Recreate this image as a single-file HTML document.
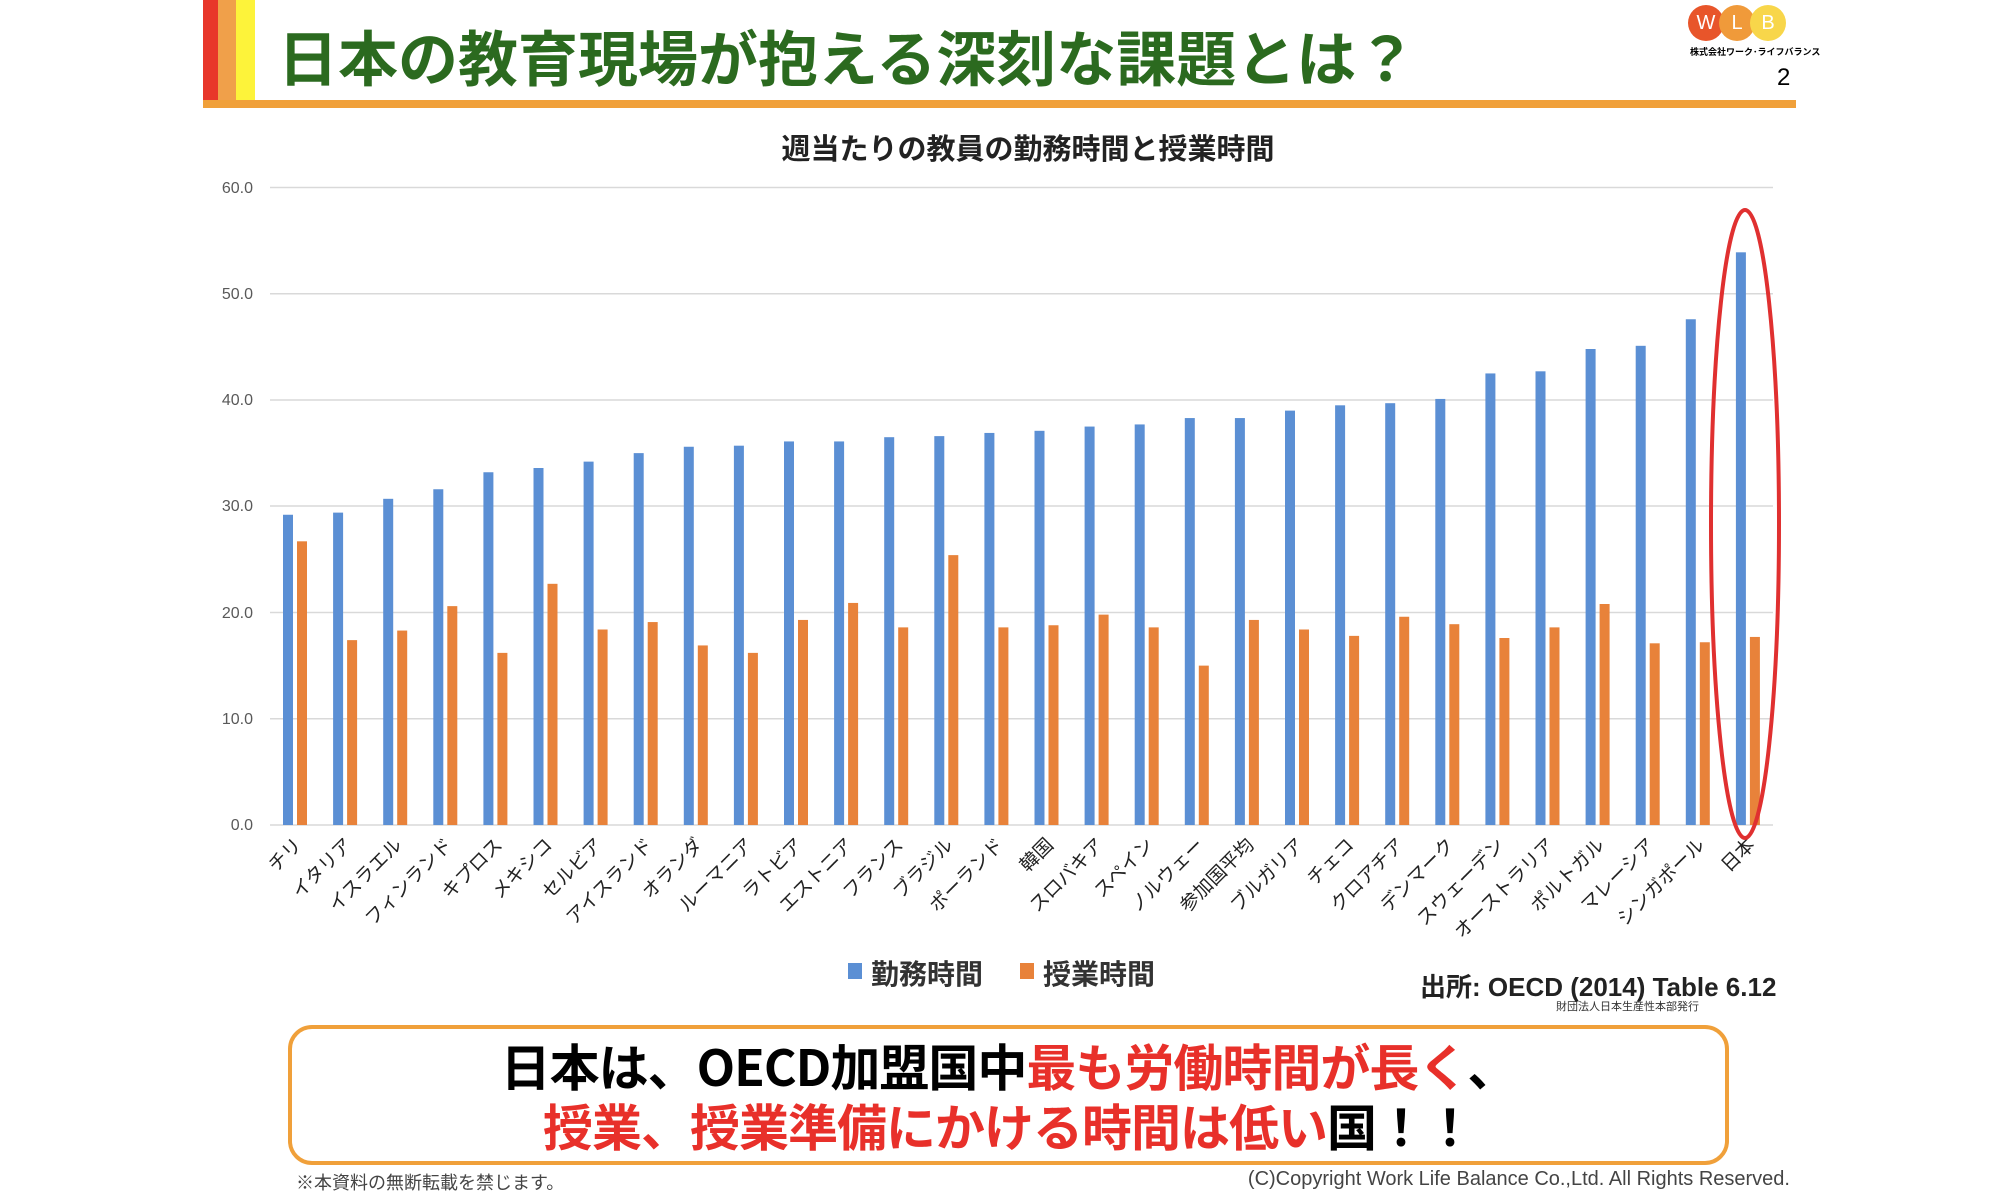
<!DOCTYPE html>
<html><head><meta charset="utf-8"><style>
body{margin:0;width:2000px;height:1196px;background:#fff;position:relative;overflow:hidden;font-family:"Liberation Sans","Noto Sans CJK JP",sans-serif}
.a{position:absolute;white-space:nowrap}
</style></head><body>
<div class="a" style="left:203px;top:0;width:15px;height:108px;background:#e8372a"></div>
<div class="a" style="left:218px;top:0;width:18px;height:108px;background:#f0a04a"></div>
<div class="a" style="left:236px;top:0;width:19px;height:100px;background:#fdf33a"></div>
<div class="a" style="left:203px;top:100px;width:1593px;height:8px;background:#f0a03a"></div>
<div class="a" style="left:278px;top:18px;font-size:60px;font-weight:bold;color:#2b6a1f;font-family:'Noto Sans CJK JP',sans-serif;line-height:76px">日本の教育現場が抱える深刻な課題とは？</div>
<div class="a" style="left:1688px;top:5px;width:36px;height:36px;border-radius:50%;background:#e8552a;color:#fff;font-size:20px;text-align:center;line-height:36px">W</div>
<div class="a" style="left:1719px;top:5px;width:36px;height:36px;border-radius:50%;background:#f09a3a;color:#fff;font-size:20px;text-align:center;line-height:36px">L</div>
<div class="a" style="left:1750px;top:5px;width:36px;height:36px;border-radius:50%;background:#f8d64a;color:#fff;font-size:20px;text-align:center;line-height:36px">B</div>
<div class="a" style="left:1690px;top:45px;font-size:9px;font-weight:bold">株式会社ワーク･ライフバランス</div>
<div class="a" style="left:1777px;top:64px;font-size:24px">2</div>
<div class="a" style="left:0;width:2056px;top:126px;text-align:center;font-size:29px;font-weight:bold;color:#222">週当たりの教員の勤務時間と授業時間</div>
<svg class="a" style="left:0;top:0" width="2000" height="1196" font-family="Liberation Sans, Noto Sans CJK JP, sans-serif">
<g stroke="#d9d9d9" stroke-width="1.5">
<line x1="270" x2="1773" y1="187.5" y2="187.5"/><line x1="270" x2="1773" y1="293.7" y2="293.7"/><line x1="270" x2="1773" y1="400" y2="400"/><line x1="270" x2="1773" y1="506" y2="506"/><line x1="270" x2="1773" y1="612.5" y2="612.5"/><line x1="270" x2="1773" y1="718.7" y2="718.7"/><line x1="270" x2="1773" y1="825" y2="825"/>
</g>
<g font-size="16" fill="#595959" text-anchor="end">
<text x="253" y="193">60.0</text><text x="253" y="299">50.0</text><text x="253" y="405">40.0</text><text x="253" y="511">30.0</text><text x="253" y="618">20.0</text><text x="253" y="724">10.0</text><text x="253" y="830">0.0</text>
</g>
<g id="bars"></g>
<g id="labs" font-size="19" fill="#222" text-anchor="end"></g>
<ellipse cx="1745" cy="524" rx="34" ry="314" fill="none" stroke="#e03030" stroke-width="4"/>
</svg>
<script>
var b=[29.2,29.4,30.7,31.6,33.2,33.6,34.2,35.0,35.6,35.7,36.1,36.1,36.5,36.6,36.9,37.1,37.5,37.7,38.3,38.3,39.0,39.5,39.7,40.1,42.5,42.7,44.8,45.1,47.6,53.9];
var o=[26.7,17.4,18.3,20.6,16.2,22.7,18.4,19.1,16.9,16.2,19.3,20.9,18.6,25.4,18.6,18.8,19.8,18.6,15.0,19.3,18.4,17.8,19.6,18.9,17.6,18.6,20.8,17.1,17.2,17.7];
var n=["チリ","イタリア","イスラエル","フィンランド","キプロス","メキシコ","セルビア","アイスランド","オランダ","ルーマニア","ラトビア","エストニア","フランス","ブラジル","ポーランド","韓国","スロバキア","スペイン","ノルウェー","参加国平均","ブルガリア","チェコ","クロアチア","デンマーク","スウェーデン","オーストラリア","ポルトガル","マレーシア","シンガポール","日本"];
var s="",t="",k=637.5/60;
for(var i=0;i<30;i++){var c=270+50.1*i+25;
s+='<rect x="'+(c-12)+'" y="'+(825-b[i]*k)+'" width="10" height="'+(b[i]*k)+'" fill="#5b8fd4"/>';
s+='<rect x="'+(c+2)+'" y="'+(825-o[i]*k)+'" width="10" height="'+(o[i]*k)+'" fill="#e8823a"/>';
t+='<text transform="translate('+(c+8)+',846) rotate(-45)">'+n[i]+'</text>';}
document.getElementById('bars').innerHTML=s;document.getElementById('labs').innerHTML=t;
</script>
<div class="a" style="left:848px;top:963px;width:14px;height:16px;background:#5b8fd4"></div>
<div class="a" style="left:871px;top:953px;font-size:28px;font-weight:bold;color:#333">勤務時間</div>
<div class="a" style="left:1020px;top:963px;width:14px;height:16px;background:#e8823a"></div>
<div class="a" style="left:1043px;top:953px;font-size:28px;font-weight:bold;color:#333">授業時間</div>
<div class="a" style="left:1420px;top:967px;font-size:26px;font-weight:bold;color:#222">出所: OECD (2014) Table 6.12</div>
<div class="a" style="left:1556px;top:998px;font-size:11px;color:#333">財団法人日本生産性本部発行</div>
<div class="a" style="left:288px;top:1025px;width:1433px;height:132px;border:4px solid #f0a03a;border-radius:24px"></div>
<div class="a" style="left:290px;width:1437px;top:1034px;text-align:center;font-size:50px;font-weight:bold;line-height:62px;font-family:'Noto Sans CJK JP',sans-serif;letter-spacing:-1px">日本は、OECD加盟国中<span style="color:#e8302a">最も労働時間が長く</span>、</div>
<div class="a" style="left:290px;width:1437px;top:1094px;text-align:center;font-size:50px;font-weight:bold;line-height:62px;font-family:'Noto Sans CJK JP',sans-serif;letter-spacing:-1px"><span style="color:#e8302a">授業、授業準備にかける時間は低い</span>国！！</div>
<div class="a" style="left:296px;top:1169px;font-size:18px;color:#444">※本資料の無断転載を禁じます。</div>
<div class="a" style="right:210px;top:1168px;font-size:20px;color:#444">(C)Copyright  Work Life Balance Co.,Ltd. All Rights Reserved.</div>
</body></html>
